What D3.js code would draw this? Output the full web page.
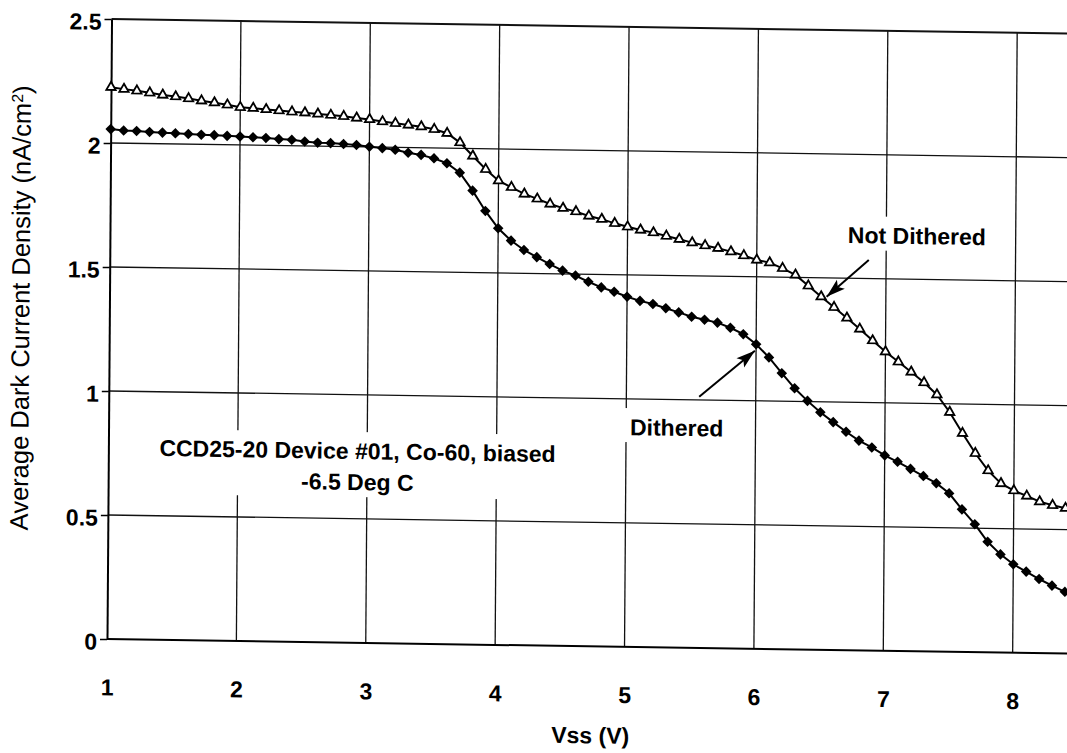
<!DOCTYPE html>
<html>
<head>
<meta charset="utf-8">
<script src="https://cdn.jsdelivr.net/npm/d3@7"></script>
<style>
  body { margin: 0; background: #fff; }
  svg { display: block; font-family: "Liberation Sans", Arial, sans-serif; }
</style>
</head>
<body>
<script>
// Vss sample points (V)
const vss = [1.0, 1.1, 1.2, 1.3, 1.4, 1.5, 1.6, 1.7, 1.8, 1.9,
    2.0, 2.1, 2.2, 2.3, 2.4, 2.5, 2.6, 2.7, 2.8, 2.9,
    3.0, 3.1, 3.2, 3.3, 3.4, 3.5, 3.6, 3.7, 3.8, 3.9,
    4.0, 4.1, 4.2, 4.3, 4.4, 4.5, 4.6, 4.7, 4.8, 4.9,
    5.0, 5.1, 5.2, 5.3, 5.4, 5.5, 5.6, 5.7, 5.8, 5.9,
    6.0, 6.1, 6.2, 6.3, 6.4, 6.5, 6.6, 6.7, 6.8, 6.9,
    7.0, 7.1, 7.2, 7.3, 7.4, 7.5, 7.6, 7.7, 7.8, 7.9,
    8.0, 8.1, 8.2, 8.3, 8.4]

// average dark current density (nA/cm2)
const notDithered = [2.225, 2.218, 2.212, 2.205, 2.197, 2.191, 2.184, 2.176, 2.169, 2.161,
    2.152, 2.149, 2.145, 2.141, 2.137, 2.134, 2.130, 2.126, 2.122, 2.116,
    2.111, 2.103, 2.097, 2.091, 2.085, 2.075, 2.060, 2.023, 1.970, 1.917,
    1.872, 1.846, 1.820, 1.801, 1.781, 1.765, 1.752, 1.735, 1.723, 1.707,
    1.694, 1.682, 1.672, 1.659, 1.647, 1.634, 1.623, 1.613, 1.600, 1.585,
    1.568, 1.558, 1.536, 1.510, 1.467, 1.424, 1.382, 1.340, 1.296, 1.250,
    1.206, 1.166, 1.126, 1.084, 1.036, 0.966, 0.882, 0.802, 0.733, 0.682,
    0.654, 0.633, 0.611, 0.597, 0.586]

const dithered = [2.056, 2.051, 2.050, 2.047, 2.045, 2.043, 2.041, 2.039, 2.038, 2.036,
    2.034, 2.032, 2.030, 2.026, 2.024, 2.018, 2.014, 2.013, 2.010, 2.007,
    2.001, 1.996, 1.990, 1.979, 1.971, 1.958, 1.939, 1.902, 1.830, 1.749,
    1.680, 1.631, 1.594, 1.566, 1.539, 1.513, 1.494, 1.470, 1.448, 1.431,
    1.412, 1.396, 1.384, 1.368, 1.352, 1.335, 1.324, 1.313, 1.293, 1.268,
    1.228, 1.176, 1.113, 1.053, 1.003, 0.958, 0.919, 0.881, 0.846, 0.819,
    0.788, 0.763, 0.735, 0.707, 0.679, 0.639, 0.575, 0.516, 0.446, 0.396,
    0.357, 0.328, 0.299, 0.273, 0.249]

const xTicks = [1, 2, 3, 4, 5, 6, 7, 8]
const yTicks = [0, 0.5, 1, 1.5, 2, 2.5]

const width = 1067, height = 753;

const svg = d3.select('body').append('svg')
    .attr('width', width)
    .attr('height', height);

svg.append('rect').attr('width', width).attr('height', height).attr('fill', '#fff');

// the scanned page is a little tilted, so the whole chart gets a small skew
const g = svg.append('g')
    .attr('transform', 'translate(107,639) matrix(1,0.0152,-0.0073,1,0,0)');

const x = d3.scaleLinear().domain([1, 8.42]).range([0, 960]);
const y = d3.scaleLinear().domain([0, 2.5]).range([0, -620]);

// grid
g.selectAll('.vgrid')
    .data(xTicks.slice(1))
    .enter().append('line')
    .attr('x1', d => x(d)).attr('x2', d => x(d))
    .attr('y1', y(0)).attr('y2', y(2.5))
    .attr('stroke', '#111').attr('stroke-width', 1.3);

g.selectAll('.hgrid')
    .data(yTicks.slice(1))
    .enter().append('line')
    .attr('x1', x(1)).attr('x2', x(8.42) + 20)
    .attr('y1', d => y(d)).attr('y2', d => y(d))
    .attr('stroke', '#111').attr('stroke-width', d => d === 2.5 ? 2 : 1.3);

// y axis
const yAxis = g.append('g')
    .call(d3.axisLeft(y).tickValues(yTicks).tickSize(7).tickSizeOuter(0).tickPadding(3)
        .tickFormat(d3.format('')));
yAxis.select('.domain').attr('stroke', '#000').attr('stroke-width', 2);
yAxis.selectAll('.tick line').attr('stroke', '#000').attr('stroke-width', 1.5);
yAxis.selectAll('text')
    .attr('dy', '0.45em')
    .attr('fill', '#000')
    .style('font-family', '"Liberation Sans", Arial, sans-serif')
    .style('font-size', '23px')
    .style('font-weight', 'bold');

// x axis
const xAxis = g.append('g')
    .call(d3.axisBottom(x).tickValues(xTicks).tickSize(0).tickSizeOuter(0).tickPadding(40));
xAxis.select('.domain').attr('stroke', '#000').attr('stroke-width', 2)
    .attr('d', `M0,0H${x(8.42) + 20}`);
xAxis.selectAll('text')
    .attr('fill', '#000')
    .style('font-family', '"Liberation Sans", Arial, sans-serif')
    .style('font-size', '23px')
    .style('font-weight', 'bold');

// axis titles
g.append('text')
    .attr('x', x(4.74))
    .attr('y', 97)
    .attr('text-anchor', 'middle')
    .style('font-size', '23px')
    .style('font-weight', 'bold')
    .text('Vss (V)');

const yTitle = g.append('text')
    .attr('transform', `translate(-80,${y(1.33)}) rotate(-90)`)
    .attr('text-anchor', 'middle')
    .style('font-size', '25.5px');
yTitle.append('tspan').text('Average Dark Current Density (nA/cm');
yTitle.append('tspan').attr('baseline-shift', 'super').style('font-size', '16px').text('2');
yTitle.append('tspan').text(')');

// labels sit on white boxes that hide the grid behind them
const labelLayer = g.append('g');

function boxedText(parent, cx, cy, lines, anchor) {
    const t = parent.append('text')
        .attr('text-anchor', anchor)
        .style('font-size', '23px').style('font-weight', 'bold');
    lines.forEach((s, i) => {
        t.append('tspan').attr('x', cx).attr('y', cy + i * 31).text(s);
    });
    const b = t.node().getBBox();
    parent.insert('rect', 'text')
        .attr('x', b.x - 7).attr('y', b.y - 6)
        .attr('width', b.width + 14).attr('height', b.height + 8)
        .attr('fill', '#fff');
}

boxedText(labelLayer, x(6.703), y(1.642), ['Not Dithered'], 'start');
boxedText(labelLayer, x(5.03), y(0.854), ['Dithered'], 'start');
boxedText(labelLayer, x(2.926), y(0.741), ['CCD25-20 Device #01, Co-60, biased', '-6.5 Deg C'], 'middle');

// series
const line = d3.line()
    .x((d, i) => x(vss[i]))
    .y(d => y(d));

g.append('path')
    .datum(dithered)
    .attr('fill', 'none')
    .attr('stroke', '#000')
    .attr('stroke-width', 2)
    .attr('d', line);

g.append('path')
    .datum(notDithered)
    .attr('fill', 'none')
    .attr('stroke', '#000')
    .attr('stroke-width', 2)
    .attr('d', line);

const diamond = {
    draw(context, size) {
        const r = Math.sqrt(size / 2);
        context.moveTo(0, -r);
        context.lineTo(r, 0);
        context.lineTo(0, r);
        context.lineTo(-r, 0);
        context.closePath();
    }
};

g.selectAll('.dia')
    .data(dithered)
    .enter().append('path')
    .attr('transform', (d, i) => `translate(${x(vss[i])},${y(d)})`)
    .attr('d', d3.symbol().type(diamond).size(56))
    .attr('fill', '#000');

g.selectAll('.tri')
    .data(notDithered)
    .enter().append('path')
    .attr('transform', (d, i) => `translate(${x(vss[i])},${y(d)})`)
    .attr('d', d3.symbol().type(d3.symbolTriangle).size(38))
    .attr('fill', '#fff')
    .attr('stroke', '#000')
    .attr('stroke-width', 1.8);

// arrows
const defs = svg.append('defs');
defs.append('marker')
    .attr('id', 'head')
    .attr('markerUnits', 'userSpaceOnUse')
    .attr('viewBox', '-20 -7 22 14')
    .attr('markerWidth', 22).attr('markerHeight', 14)
    .attr('refX', 0).attr('refY', 0)
    .attr('orient', 'auto')
    .append('path')
    .attr('d', 'M0,0L-19,-6L-15,0L-19,6Z')
    .attr('fill', '#000');

const arrows = [
    { from: [6.866, 1.575], to: [6.542, 1.424] },
    { from: [5.563, 1.013], to: [5.991, 1.202] }
];
g.selectAll('.arrow')
    .data(arrows)
    .enter().append('line')
    .attr('x1', d => x(d.from[0])).attr('y1', d => y(d.from[1]))
    .attr('x2', d => x(d.to[0])).attr('y2', d => y(d.to[1]))
    .attr('stroke', '#000').attr('stroke-width', 2)
    .attr('marker-end', 'url(#head)');
</script>
</body>
</html>
